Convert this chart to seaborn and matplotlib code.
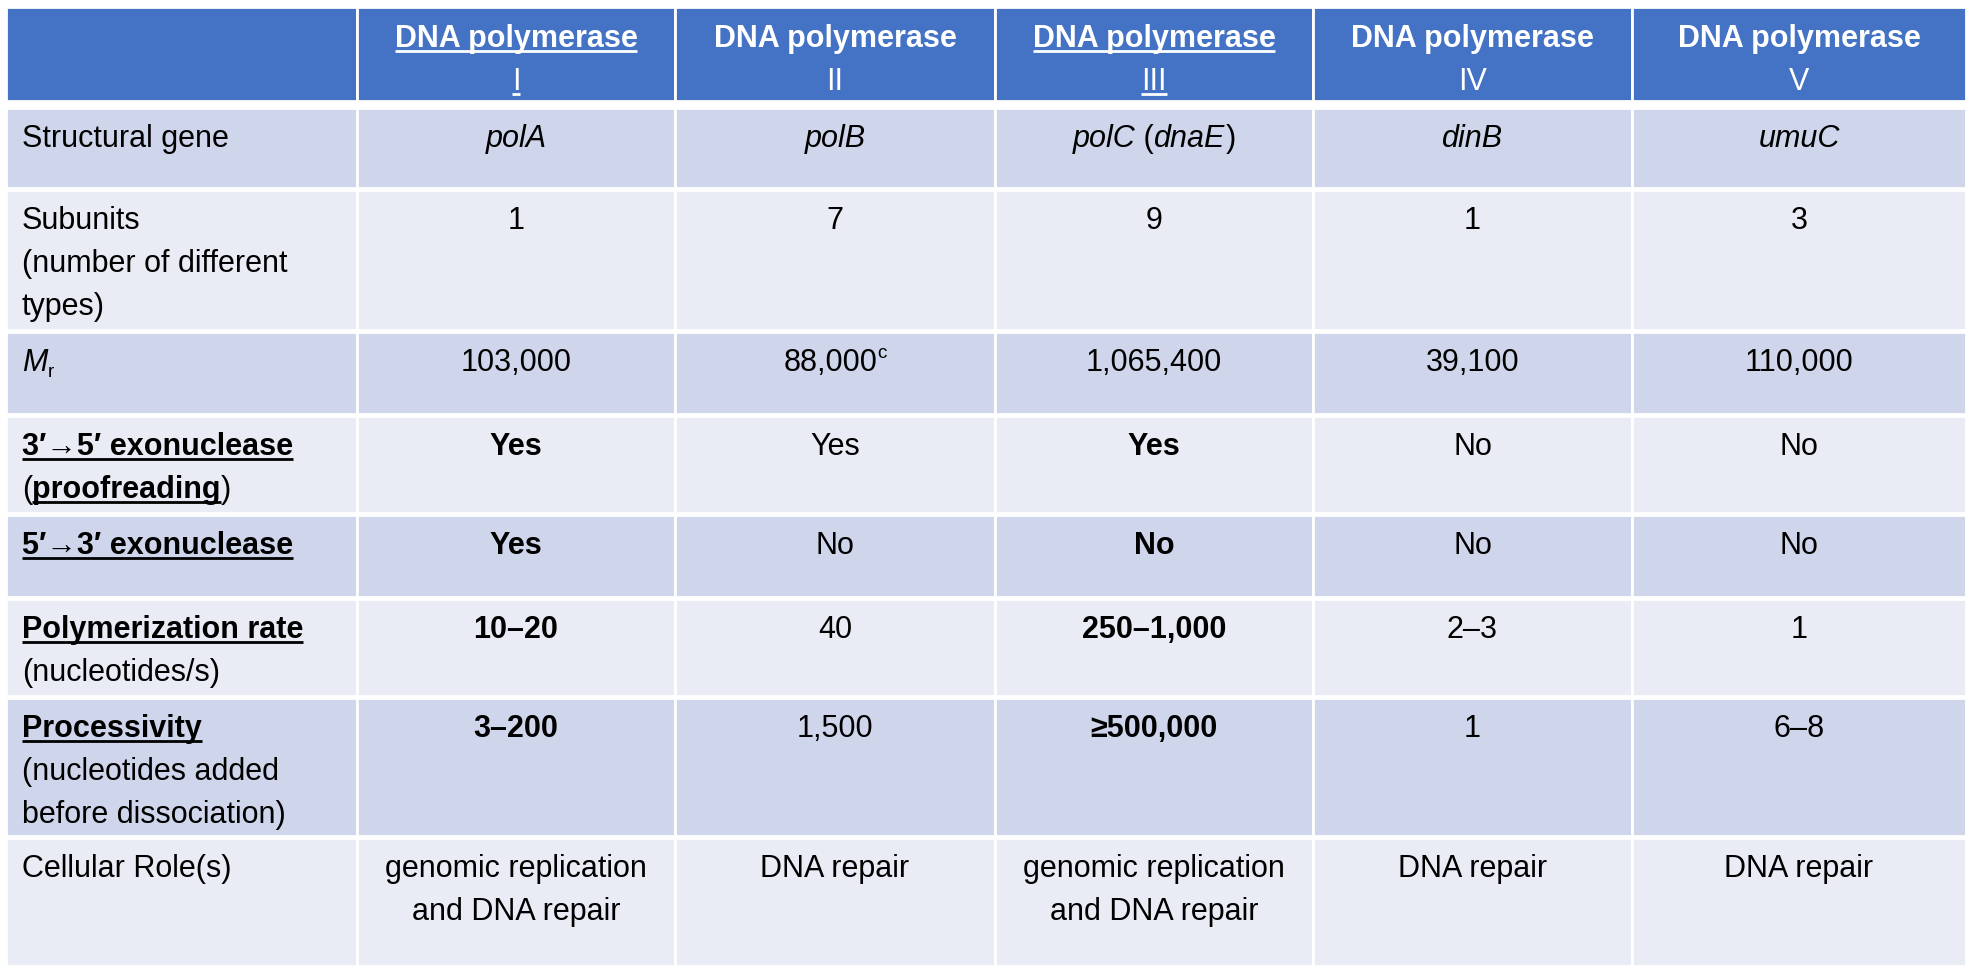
import re
import matplotlib
matplotlib.use("Agg")
import matplotlib.pyplot as plt
from matplotlib.patches import Rectangle
import seaborn as sns

# markup: * bold, _ italic, ~ underline, ^ superscript, | subscript
headers = ["", "*~DNA polymerase~\n~I~*", "*DNA polymerase\nII*", "*~DNA polymerase~\n~III~*",
           "*DNA polymerase\nIV*", "*DNA polymerase\nV*"]
row_labels = [
    "Structural gene",
    "Subunits\n(number of different\ntypes)",
    "_M_|r|",
    "*~3′→5′ exonuclease~*\n(*~proofreading~*)",
    "*~5′→3′ exonuclease~*",
    "*~Polymerization rate~*\n(nucleotides/s)",
    "*~Processivity~*\n(nucleotides added\nbefore dissociation)",
    "Cellular Role(s)",
]
pol_I = ["_polA_", "1", "103,000", "*Yes*", "*Yes*", "*10–20*", "*3–200*", "genomic replication\nand DNA repair"]
pol_II = ["_polB_", "7", "88,000^c^", "Yes", "No", "40", "1,500", "DNA repair"]
pol_III = ["_polC_ (_dnaE_)", "9", "1,065,400", "*Yes*", "*No*", "*250–1,000*", "*≥500,000*", "genomic replication\nand DNA repair"]
pol_IV = ["_dinB_", "1", "39,100", "No", "No", "2–3", "1", "DNA repair"]
pol_V = ["_umuC_", "3", "110,000", "No", "No", "1", "6–8", "DNA repair"]
columns = [row_labels, pol_I, pol_II, pol_III, pol_IV, pol_V]

# layout (pixels)
col_edges = [6, 357, 675, 995, 1313, 1632, 1966]
header_span = (7, 101)
row_spans = [(108, 188), (190, 330), (332, 414), (416, 513), (515, 597), (599, 696), (698, 836), (838, 966)]
HEADER_C = "#4472c4"
DARK_C = "#cfd5ea"
LIGHT_C = "#e9ebf5"
FS = 22
LINE = 43

sns.set_style("white")
plt.rcParams["font.family"] = ["Liberation Sans", "DejaVu Sans"]

fig = plt.figure(figsize=(19.72, 9.73), dpi=100)
ax = fig.add_axes([0, 0, 1, 1])
ax.set_xlim(0, 1972)
ax.set_ylim(973, 0)
ax.axis("off")
renderer = fig.canvas.get_renderer()


def parse(s):
    segs = []
    state = {"*": False, "_": False, "~": False, "^": False, "|": False}
    buf = ""
    for ch in s:
        if ch in state:
            if buf:
                segs.append((buf, dict(state)))
            buf = ""
            state[ch] = not state[ch]
        else:
            buf += ch
    if buf:
        segs.append((buf, dict(state)))
    return segs


def measure(s, kw):
    t1 = ax.text(0, 0, "x" + s + "x", **kw)
    t2 = ax.text(0, 0, "xx", **kw)
    w = t1.get_window_extent(renderer).width - t2.get_window_extent(renderer).width
    t1.remove()
    t2.remove()
    return w


def draw_line(markup, x, y, align, color):
    items = []
    for txt, st in parse(markup):
        size = FS * (0.62 if (st["^"] or st["|"]) else 1.0)
        kw = dict(fontsize=size, fontweight="bold" if st["*"] else "normal",
                  fontstyle="italic" if st["_"] else "normal", color=color, va="baseline", ha="left")
        items.append((txt, st, kw, measure(txt, kw)))
    total = sum(i[3] for i in items)
    cx = x - total / 2 if align == "center" else x
    for txt, st, kw, w in items:
        dy = -13 if st["^"] else (6 if st["|"] else 0)
        ax.text(cx, y + dy, txt, **kw)
        if st["~"]:
            ax.plot([cx, cx + w], [y + 4, y + 4], color=color, lw=2, solid_capstyle="butt")
        cx += w


def draw_cell(markup, ci, top, color):
    x0, x1 = col_edges[ci], col_edges[ci + 1]
    if ci == 0:
        x, align = x0 + 16, "left"
    else:
        x, align = (x0 + x1) / 2, "center"
    for k, line in enumerate(markup.split("\n")):
        draw_line(line, x, top + k * LINE, align, color)


# header
for ci, h in enumerate(headers):
    x0, x1 = col_edges[ci], col_edges[ci + 1]
    ax.add_patch(Rectangle((x0, header_span[0]), x1 - x0, header_span[1] - header_span[0],
                           facecolor=HEADER_C, edgecolor="white", lw=2))
    if h:
        draw_cell(h, ci, header_span[0] + 40, "white")

# body
for ri, (y0, y1) in enumerate(row_spans):
    fc = DARK_C if ri % 2 == 0 else LIGHT_C
    for ci, col in enumerate(columns):
        x0, x1 = col_edges[ci], col_edges[ci + 1]
        ax.add_patch(Rectangle((x0, y0), x1 - x0, y1 - y0, facecolor=fc, edgecolor="white", lw=2))
        draw_cell(col[ri], ci, y0 + 39, "black")

fig.savefig("out.png", dpi=100, facecolor="white")
